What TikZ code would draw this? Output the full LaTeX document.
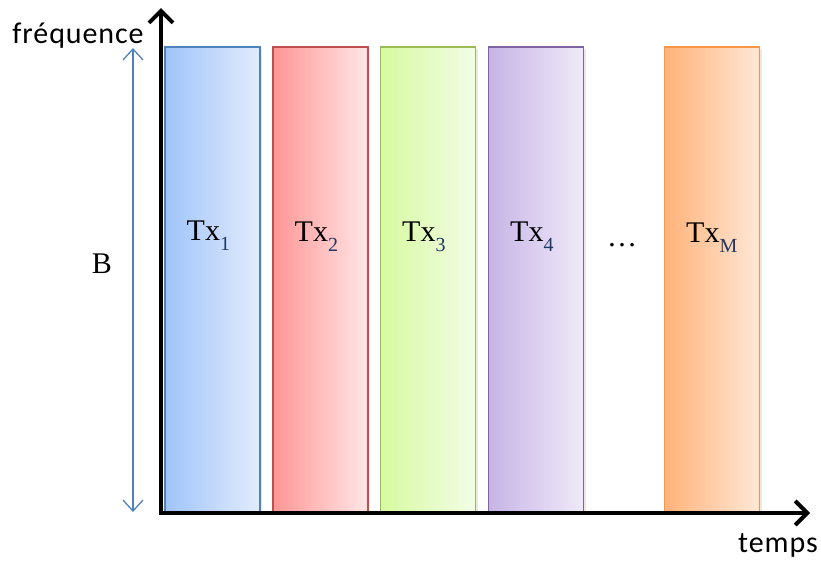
\documentclass[tikz,border=0pt]{standalone}
\usepackage{fontspec}
\setmainfont{Liberation Serif}
\newfontfamily\axisfont[LetterSpace=3]{Carlito}
\usetikzlibrary{positioning,arrows.meta,shadows}

% bar colours (border / left / right)
\definecolor{bluebd}{RGB}{79,129,189}
\definecolor{bluelt}{RGB}{160,196,250}
\definecolor{bluert}{RGB}{226,236,252}
\definecolor{redbd}{RGB}{192,80,77}
\definecolor{redlt}{RGB}{255,150,150}
\definecolor{redrt}{RGB}{255,230,230}
\definecolor{greenbd}{RGB}{155,187,89}
\definecolor{greenlt}{RGB}{214,250,160}
\definecolor{greenrt}{RGB}{243,253,230}
\definecolor{purplebd}{RGB}{128,100,162}
\definecolor{purplelt}{RGB}{198,180,230}
\definecolor{purplert}{RGB}{240,234,249}
\definecolor{orangebd}{RGB}{247,150,70}
\definecolor{orangelt}{RGB}{255,178,122}
\definecolor{orangert}{RGB}{255,232,215}
\definecolor{subcol}{RGB}{31,56,100}

\newcommand{\txsub}[1]{\raisebox{-10pt}{\fontsize{20}{20}\selectfont\color{subcol}#1}}

\tikzset{
  bar/.style={draw=#1bd, line width=1.2pt, left color=#1lt, right color=#1rt,
    minimum width=95pt, minimum height=465pt, inner sep=0pt,
    drop shadow={opacity=0.18, shadow xshift=2pt, shadow yshift=-2pt}},
  txlabel/.style={font=\fontsize{30}{33}\selectfont, anchor=base, inner sep=0pt},
  axislabel/.style={font=\axisfont\fontsize{30}{33}\selectfont, anchor=base, inner sep=0pt},
  axis/.style={line width=4pt, -{Straight Barb[length=12pt,width=24pt,line width=4pt]}},
  bandarrow/.style={draw=bluebd, line width=1.3pt,
    {Straight Barb[length=11pt,width=20pt]}-{Straight Barb[length=11pt,width=20pt]}}
}

\begin{document}
\begin{tikzpicture}[x=1pt, y=-1pt]
\useasboundingbox (0,0) rectangle (821,563);

% ========== Transmitter bars ==========
\foreach \n/\x/\c/\y in {1/212.5/blue/240, 2/320.5/red/241, 3/428/green/241, 4/536/purple/241, M/712/orange/242} {
  \node[bar=\c] (tx\n) at (\x,279.5) {};
  \node[txlabel, anchor=base west] (lab\n) at (\x-26,\y) {Tx\txsub{\n}};
}

% dots between Tx4 and TxM
\node[txlabel] (dots) at (622,246) {\dots};

% ========== Axes ==========
\coordinate (origin) at (161,513);
\coordinate (ytip) at (161,8);
\coordinate (xtip) at (810,513);
\draw[axis] (origin) -- (ytip);
\draw[axis] ([xshift=-2pt]origin) -- (xtip);

\node[axislabel] (freq) at (78,43) {fréquence};
\node[axislabel] (temps) at (778,552) {temps};

% ========== Bandwidth B ==========
\coordinate (btop) at (133,48);
\coordinate (bbot) at (133,512);
\draw[bandarrow] (btop) -- (bbot);
\node[txlabel] (bw) at (102,273) {B};

\end{tikzpicture}
\end{document}
